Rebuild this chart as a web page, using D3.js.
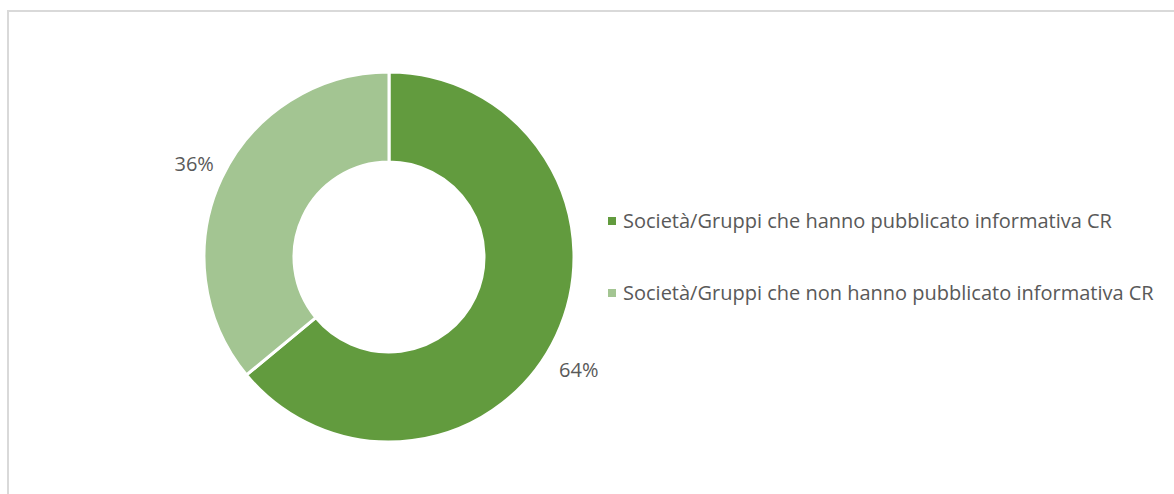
<!DOCTYPE html>
<html>
<head>
<meta charset="utf-8">
<script src="https://cdnjs.cloudflare.com/ajax/libs/d3/7.8.5/d3.min.js"></script>
<style>
  body { margin: 0; background: #fff; }
  text { font-family: "Open Sans", "Noto Sans", sans-serif; fill: #595959; }
</style>
</head>
<body>
<svg id="chart" width="1174" height="494"></svg>
<script>
// data
var categories = ["Società/Gruppi che hanno pubblicato informativa CR",
                  "Società/Gruppi che non hanno pubblicato informativa CR"];
var values = [64, 36];
var colors = ["#629b3e", "#a3c592"];

var width = 1174, height = 494;
var cx = 389, cy = 257;
var outerR = 185, innerR = 95;

var svg = d3.select("#chart");

// frame
svg.append("rect")
    .attr("x", 8).attr("y", 11)
    .attr("width", width + 10).attr("height", height + 10)
    .attr("fill", "none")
    .attr("stroke", "#d9d9d9")
    .attr("stroke-width", 2);

var data = categories.map(function (c, i) {
    return { label: c, value: values[i], color: colors[i] };
});

var pie = d3.pie()
    .value(function (d) { return d.value; })
    .sort(null);

var arc = d3.arc()
    .innerRadius(innerR)
    .outerRadius(outerR);

var g = svg.append("g")
    .attr("transform", "translate(" + cx + "," + cy + ")");

var arcs = pie(data);

g.selectAll("path")
    .data(arcs)
    .enter()
    .append("path")
    .attr("d", arc)
    .attr("fill", function (d) { return d.data.color; })
    .attr("stroke", "#fff")
    .attr("stroke-width", 3);

// data labels, outside end
var labelArc = d3.arc().innerRadius(212).outerRadius(212);
var labelNudge = [[-2, 23], [-3, -3]];
g.selectAll(".lbl")
    .data(arcs)
    .enter()
    .append("text")
    .attr("class", "lbl")
    .attr("x", function (d, i) { return labelArc.centroid(d)[0] + labelNudge[i][0]; })
    .attr("y", function (d, i) { return labelArc.centroid(d)[1] + labelNudge[i][1]; })
    .attr("text-anchor", "middle")
    .attr("dy", "0.35em")
    .style("font-size", "20px")
    .text(function (d) { return d.data.value + "%"; });

// legend
var legend = svg.selectAll(".legend")
    .data(data)
    .enter()
    .append("g")
    .attr("class", "legend")
    .attr("transform", function (d, i) {
        return "translate(608," + (221 + i * 72) + ")";
    });

legend.append("rect")
    .attr("x", 0).attr("y", -4)
    .attr("width", 8).attr("height", 8)
    .attr("fill", function (d) { return d.color; });

legend.append("text")
    .attr("x", 15)
    .attr("y", 0)
    .attr("dy", "0.35em")
    .style("font-size", "20px")
    .text(function (d) { return d.label; });
</script>
</body>
</html>
